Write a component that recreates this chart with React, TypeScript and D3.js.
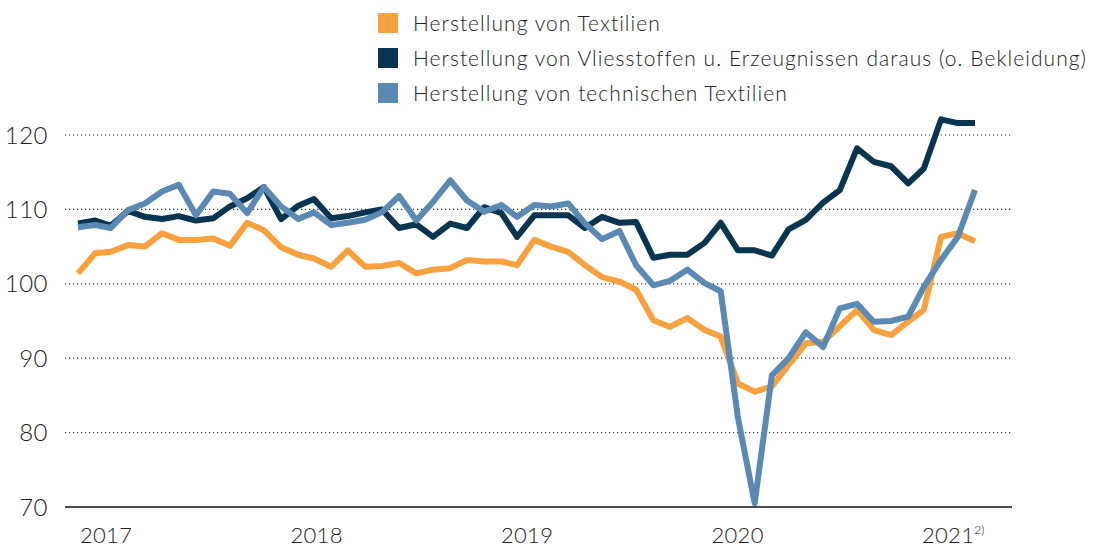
import React from "react";
import * as d3 from "d3";

const months: Date[] = d3.timeMonths(new Date(2017, 0, 1), new Date(2021, 6, 1));

const textilien: number[] = [
  101.4, 104.1, 104.3, 105.2, 105.0, 106.8, 105.9, 105.9, 106.1, 105.1, 108.2, 107.2,
  104.9, 103.9, 103.4, 102.3, 104.5, 102.3, 102.4, 102.8, 101.4, 101.9, 102.1, 103.2,
  103.0, 103.0, 102.5, 105.9, 105.0, 104.3, 102.5, 100.9, 100.3, 99.2, 95.1, 94.2,
  95.4, 93.8, 92.9, 86.6, 85.5, 86.2, 89.1, 92.0, 92.2, 94.3, 96.5, 93.8,
  93.1, 94.9, 96.5, 106.3, 106.8, 105.7,
];

const vliesstoffe: number[] = [
  108.1, 108.5, 107.8, 109.8, 109.0, 108.7, 109.1, 108.5, 108.8, 110.4, 111.5, 113.0,
  108.7, 110.5, 111.4, 108.8, 109.1, 109.6, 110.0, 107.5, 108.0, 106.3, 108.1, 107.5,
  110.3, 109.5, 106.3, 109.2, 109.2, 109.2, 107.5, 109.0, 108.2, 108.3, 103.5, 103.9,
  103.9, 105.5, 108.2, 104.5, 104.5, 103.8, 107.3, 108.6, 110.9, 112.6, 118.2, 116.4,
  115.8, 113.5, 115.5, 122.1, 121.6, 121.6,
];

const technische: number[] = [
  107.6, 107.9, 107.5, 109.9, 110.8, 112.4, 113.3, 109.2, 112.4, 112.1, 109.5, 113.0,
  110.4, 108.7, 109.6, 107.9, 108.2, 108.6, 109.6, 111.8, 108.5, 111.0, 113.9, 111.2,
  109.7, 110.6, 109.0, 110.6, 110.4, 110.8, 108.1, 106.0, 107.1, 102.5, 99.8, 100.4,
  101.9, 100.1, 99.0, 82.0, 70.5, 87.7, 90.0, 93.5, 91.5, 96.7, 97.3, 94.9,
  95.0, 95.6, 99.6, 103.2, 106.3, 112.6,
];

const seriesNames: string[] = [
  "Herstellung von Textilien",
  "Herstellung von Vliesstoffen u. Erzeugnissen daraus (o. Bekleidung)",
  "Herstellung von technischen Textilien",
];
const seriesColors: string[] = ["#F9A03F", "#07344F", "#5A89B4"];

const yTicks: number[] = [70, 80, 90, 100, 110, 120];
const yearLabels: number[] = [2017, 2018, 2019, 2020, 2021];
const yearFootnote: Record<number, string> = { 2021: "2)" };

const W = 1102;
const H = 548;
const FONT = "Lato, 'Open Sans', sans-serif";

export default function App() {
  const x = d3
    .scaleTime()
    .domain([months[0], months[months.length - 1]])
    .range([78, 975]);
  const y = d3.scaleLinear().domain([70, 120]).range([507, 135]);
  const yearX = d3.scaleLinear().domain([2017, 2021]).range([80, 922]);

  const gridX0 = 65;
  const gridX1 = 1012;

  const line = d3
    .line<number>()
    .x((_, i) => x(months[i]))
    .y((d) => y(d));

  const allSeries = [textilien, vliesstoffe, technische];

  return (
    <svg
      width={W}
      height={H}
      style={{ position: "absolute", left: 0, top: 0, background: "#fff" }}
      fontFamily={FONT}
    >
      {/* Legend */}
      {seriesNames.map((name, i) => {
        const cy = 23 + i * 35;
        return (
          <g key={name}>
            <rect x={378} y={cy - 10} width={20} height={20} fill={seriesColors[i]} />
            <text
              x={413}
              y={cy}
              dy="0.36em"
              fontSize={21}
              fontWeight={300}
              letterSpacing={1.05}
              fill="#222"
            >
              {name}
            </text>
          </g>
        );
      })}

      {/* Grid + y labels */}
      {yTicks.map((t) => (
        <g key={t}>
          {t === 70 ? (
            <line x1={gridX0} x2={gridX1} y1={y(t)} y2={y(t)} stroke="#111" strokeWidth={1.5} />
          ) : (
            <line
              x1={gridX0}
              x2={gridX1}
              y1={y(t)}
              y2={y(t)}
              stroke="#333"
              strokeWidth={1.2}
              strokeDasharray="1.2,2.8"
            />
          )}
          <text
            x={48}
            y={y(t)}
            dy="0.36em"
            textAnchor="end"
            fontSize={24}
            fontWeight={300}
            letterSpacing={0.5}
            fill="#222"
          >
            {t}
          </text>
        </g>
      ))}

      {/* Lines */}
      {allSeries.map((s, i) => (
        <path
          key={i}
          d={line(s) || ""}
          fill="none"
          stroke={seriesColors[i]}
          strokeWidth={6}
          strokeLinejoin="round"
          strokeLinecap="butt"
        />
      ))}

      {/* X labels */}
      {yearLabels.map((yr) => (
        <text
          key={yr}
          x={yearX(yr)}
          y={543}
          fontSize={22}
          fontWeight={300}
          letterSpacing={0.3}
          fill="#222"
        >
          {yr}
          {yearFootnote[yr] ? (
            <tspan fontSize={12} dy={-9} letterSpacing={0}>
              {yearFootnote[yr]}
            </tspan>
          ) : null}
        </text>
      ))}
    </svg>
  );
}
